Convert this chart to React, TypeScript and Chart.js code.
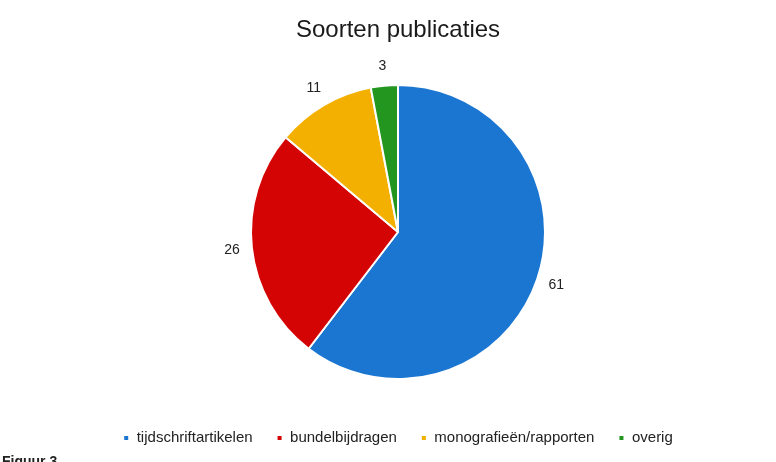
import React, { useEffect, useRef } from "react";
import { Chart, registerables } from "chart.js";

Chart.register(...registerables);

const TITLE = "Soorten publicaties";
const CATEGORIES = ["tijdschriftartikelen", "bundelbijdragen", "monografieën/rapporten", "overig"];
const VALUES = [61, 26, 11, 3];
const COLORS = ["#1b76d2", "#d40404", "#f4b000", "#23961f"];
const CAPTION = "Figuur 3";

const FONT = "'Liberation Sans', Arial, sans-serif";

const valueLabels = {
  id: "valueLabels",
  afterDatasetsDraw(chart: any) {
    const ctx = chart.ctx;
    const meta = chart.getDatasetMeta(0);
    ctx.save();
    ctx.font = `14px ${FONT}`;
    ctx.fillStyle = "#222";
    ctx.textAlign = "center";
    ctx.textBaseline = "middle";
    meta.data.forEach((arc: any, i: number) => {
      const { x, y, startAngle, endAngle, outerRadius } = arc.getProps(
        ["x", "y", "startAngle", "endAngle", "outerRadius"],
        true
      );
      const mid = (startAngle + endAngle) / 2;
      const r = outerRadius + 20;
      ctx.fillText(String(VALUES[i]), x + Math.cos(mid) * r, y + Math.sin(mid) * r);
    });
    // partially visible caption at the bottom edge
    ctx.font = `600 14px ${FONT}`;
    ctx.textAlign = "left";
    ctx.textBaseline = "top";
    ctx.fillStyle = "#222";
    ctx.fillText(CAPTION, 2, 455);
    ctx.restore();
  },
};

export default function App() {
  const ref = useRef<HTMLCanvasElement | null>(null);
  useEffect(() => {
    document.body.style.overflow = "hidden";
    const chart = new Chart(ref.current as HTMLCanvasElement, {
      type: "pie",
      data: {
        labels: CATEGORIES,
        datasets: [
          {
            data: VALUES,
            backgroundColor: COLORS,
            borderColor: "#ffffff",
            borderWidth: 2,
          },
        ],
      },
      options: {
        animation: false,
        responsive: false,
        radius: 147,
        layout: { padding: { left: 20, right: 0, top: 0, bottom: 6.5 } },
        plugins: {
          title: {
            display: true,
            text: TITLE,
            color: "#1a1a1a",
            font: { family: FONT, size: 24, weight: "normal" },
            padding: { top: 15.6, bottom: 13.1 },
          },
          legend: {
            position: "bottom",
            labels: {
              usePointStyle: true,
              pointStyle: "rect",
              boxWidth: 6,
              boxHeight: 6,
              padding: 24,
              color: "#222",
              font: { family: FONT, size: 15 },
            },
          },
          tooltip: { enabled: false },
        },
      } as any,
      plugins: [valueLabels],
    });
    return () => chart.destroy();
  }, []);
  return (
    <div style={{ position: "fixed", left: 0, top: 0, width: 776, height: 462, background: "#fff" }}>
      <canvas ref={ref} width={776} height={462} style={{ width: 776, height: 462 }} />
    </div>
  );
}
